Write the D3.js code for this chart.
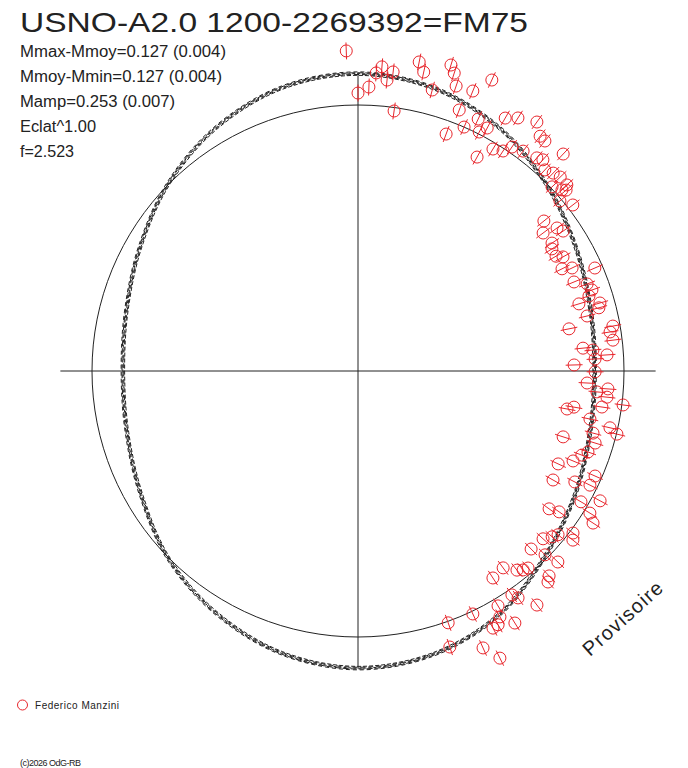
<!DOCTYPE html>
<html>
<head>
<meta charset="utf-8">
<script src="https://cdn.jsdelivr.net/npm/d3@7"></script>
<style>
  body { margin: 0; background: #fff; }
  svg { display: block; }
</style>
</head>
<body>
<script>
const width = 688;
const height = 768;
const cx = 358;
const cy = 371;

const title = "USNO-A2.0 1200-2269392=FM75";
const statLines = [
  "Mmax-Mmoy=0.127 (0.004)",
  "Mmoy-Mmin=0.127 (0.004)",
  "Mamp=0.253 (0.007)",
  "Eclat^1.00",
  "f=2.523"
];
const statWidths = [206, 202, 155, 76, 54];
const observer = "Federico Manzini";
const copyright = "(c)2026 OdG-RB";
const stamp = "Provisoire";

const mMaxMoy = 0.127;
const pointErr = 0.034;

// phase in degrees, magnitude relative to the mean (positive = fainter)
const phaseDeg = [
  92.1, 90.0, 87.8, 85.5, 86.5, 84.3, 83.3, 82.1, 78.8, 77.6,
  75.2, 73.1, 72.1, 71.0, 67.7, 65.3, 68.8, 66.5, 69.6, 64.5,
  62.0, 63.1, 59.8, 57.7, 54.3, 52.2, 50.9, 46.6, 58.7, 56.6,
  55.5, 53.1, 60.9, 50.0, 48.8, 47.1, 45.4, 43.8, 41.7, 43.5,
  41.6, 41.0, 40.1, 37.7, 38.9, 35.7,
  34.3, 36.7, 33.4, 32.2, 30.1, 29.1, 26.6, 25.7, 23.5, 22.4,
  20.8, 19.1, 18.0, 16.9, 15.7, 14.7, 13.5, 10.0, 11.3, 8.8,
  6.9, 5.8, 5.1, 3.7, 2.9, 1.6, 359.8, 357.0, 355.0, 355.9,
  354.0, 351.6, 352.7, 349.7, 350.5, 348.3, 347.3, 346.3, 345.2, 342.2,
  343.1, 339.4, 337.3, 340.6, 335.1, 330.8, 332.9, 336.1, 333.8, 329.6,
  331.8, 324.2, 325.0, 328.5, 327.1, 323.0, 321.8, 320.7, 317.8, 319.5,
  314.2, 315.5, 316.3, 306.4, 308.6, 309.7, 310.8, 303.1, 313.0, 312.0,
  304.5,
  305.2, 300.8, 307.4, 295.3, 289.7, 300.0, 297.7, 298.9, 301.9, 288.4,
  294.3, 296.3
];
const dmag = [
  -0.218, -0.048, -0.073, -0.157, -0.131, -0.106, -0.141, 0.014, -0.197, -0.161,
  -0.099, -0.216, -0.189, -0.142, -0.147, -0.218, -0.056, 0.000, 0.053, -0.053,
  -0.037, -0.008, -0.107, -0.134, -0.163, -0.125, -0.122, -0.131, 0.025, 0.010,
  -0.023, -0.036, 0.085, -0.049, -0.059, -0.034, -0.048, -0.057, -0.055, -0.006,
  -0.027, -0.039, 0.008, -0.022, 0.109, 0.084,
  0.071, 0.141, 0.135, 0.148, 0.149, 0.126, 0.152, 0.114, 0.031, 0.130,
  0.084, 0.074, 0.093, 0.141, 0.059, 0.068, 0.122, 0.029, 0.204, 0.044,
  0.037, 0.160, 0.121, 0.066, 0.115, 0.200, 0.116, 0.147, 0.105, 0.062,
  0.063, 0.078, -0.005, 0.215, 0.189, 0.117, 0.031, -0.002, 0.092, 0.203,
  0.073, 0.108, 0.132, 0.089, 0.182, 0.171, 0.090, 0.027, 0.030, 0.030,
  -0.035, 0.122, 0.082, -0.024, -0.056, -0.013, -0.030, 0.030, 0.065, 0.043,
  0.071, 0.015, -0.042, 0.086, 0.045, 0.030, 0.023, 0.076, -0.057, -0.072,
  -0.023,
  -0.047, -0.030, -0.115, -0.011, -0.006, -0.072, -0.098, -0.096, -0.124, -0.100,
  -0.152, -0.218
];

// fitted light curve, read every 15 degrees of phase
const fitPhase = d3.range(0, 360, 15);
const fitMag = [
  0.118, 0.102, 0.061, 0.002, -0.062, -0.108, -0.126, -0.110, -0.064, -0.004,
  0.060, 0.106, 0.124, 0.108, 0.064, -0.004, -0.060, -0.106, -0.125, -0.109,
  -0.063, 0.010, 0.064, 0.104
];
// spread of the bootstrap fits
const fitSpread = [-0.007, -0.0035, 0, 0.0035, 0.007];

const svg = d3.select("body").append("svg")
  .attr("width", width)
  .attr("height", height)
  .attr("viewBox", [0, 0, width, height])
  .style("font-family", "'Liberation Sans', Arial, sans-serif");

const aScale = d3.scaleLinear().domain([0, 360]).range([0, 2 * Math.PI]);
const rScale = d3.scaleLinear().domain([0, 1]).range([266, 266 - 249]);

// lineRadial angle is clockwise from 12 o'clock
const radialAngle = deg => Math.PI / 2 - aScale(deg);

const plot = svg.append("g").attr("transform", `translate(${cx},${cy})`);

// axes
const rAxis = rScale(-mMaxMoy);
plot.append("g")
  .attr("stroke", "#222")
  .attr("stroke-width", 1)
  .selectAll("line")
  .data([[180, 0], [90, 270]])
  .join("line")
  .attr("x1", d => d3.pointRadial(radialAngle(d[0]), rAxis)[0])
  .attr("y1", d => d3.pointRadial(radialAngle(d[0]), rAxis)[1])
  .attr("x2", d => d3.pointRadial(radialAngle(d[1]), rAxis)[0])
  .attr("y2", d => d3.pointRadial(radialAngle(d[1]), rAxis)[1]);

// mean magnitude circle
plot.append("circle")
  .attr("r", rScale(0))
  .attr("fill", "none")
  .attr("stroke", "#222")
  .attr("stroke-width", 1);

// fitted curves
const fitLine = off => d3.lineRadial()
  .curve(d3.curveCardinalClosed)
  .angle(i => radialAngle(fitPhase[i]))
  .radius(i => rScale(fitMag[i] + off))(d3.range(fitPhase.length));

const dashes = ["4,3", "6,2", "3,2", "5,3", "4,2"];
plot.append("g")
  .attr("fill", "none")
  .attr("stroke", "#222")
  .attr("stroke-width", 1)
  .selectAll("path")
  .data(fitSpread)
  .join("path")
  .attr("stroke-dasharray", (d, i) => dashes[i])
  .attr("stroke-dashoffset", (d, i) => i * 3)
  .attr("d", d => fitLine(d));

// observations with radial error bars
const red = "#e8262c";
const pts = plot.append("g")
  .attr("fill", "none")
  .attr("stroke", red)
  .attr("stroke-width", 1)
  .selectAll("g")
  .data(d3.range(phaseDeg.length))
  .join("g");

pts.append("line")
  .attr("x1", i => d3.pointRadial(radialAngle(phaseDeg[i]), rScale(dmag[i] + pointErr))[0])
  .attr("y1", i => d3.pointRadial(radialAngle(phaseDeg[i]), rScale(dmag[i] + pointErr))[1])
  .attr("x2", i => d3.pointRadial(radialAngle(phaseDeg[i]), rScale(dmag[i] - pointErr))[0])
  .attr("y2", i => d3.pointRadial(radialAngle(phaseDeg[i]), rScale(dmag[i] - pointErr))[1]);

pts.append("circle")
  .attr("cx", i => d3.pointRadial(radialAngle(phaseDeg[i]), rScale(dmag[i]))[0])
  .attr("cy", i => d3.pointRadial(radialAngle(phaseDeg[i]), rScale(dmag[i]))[1])
  .attr("r", 6);

// texts
svg.append("text")
  .attr("x", 20)
  .attr("y", 32)
  .attr("font-size", 28)
  .attr("fill", "#222")
  .attr("textLength", 508)
  .attr("lengthAdjust", "spacingAndGlyphs")
  .text(title);

svg.append("g")
  .attr("font-size", 16)
  .attr("fill", "#222")
  .selectAll("text")
  .data(statLines)
  .join("text")
  .attr("x", 20)
  .attr("y", (d, i) => 57 + i * 25)
  .attr("textLength", (d, i) => statWidths[i])
  .attr("lengthAdjust", "spacingAndGlyphs")
  .text(d => d);

svg.append("circle")
  .attr("cx", 22.5)
  .attr("cy", 705)
  .attr("r", 5)
  .attr("fill", "none")
  .attr("stroke", red);

svg.append("text")
  .attr("x", 35)
  .attr("y", 709)
  .attr("font-size", 10)
  .attr("fill", "#222")
  .attr("textLength", 84)
  .text(observer);

svg.append("text")
  .attr("x", 20)
  .attr("y", 766)
  .attr("font-size", 9)
  .attr("fill", "#222")
  .attr("textLength", 61)
  .text(copyright);

svg.append("text")
  .attr("transform", "translate(590,657) rotate(-42)")
  .attr("font-size", 20)
  .attr("fill", "#222")
  .attr("textLength", 100)
  .text(stamp);
</script>
</body>
</html>
